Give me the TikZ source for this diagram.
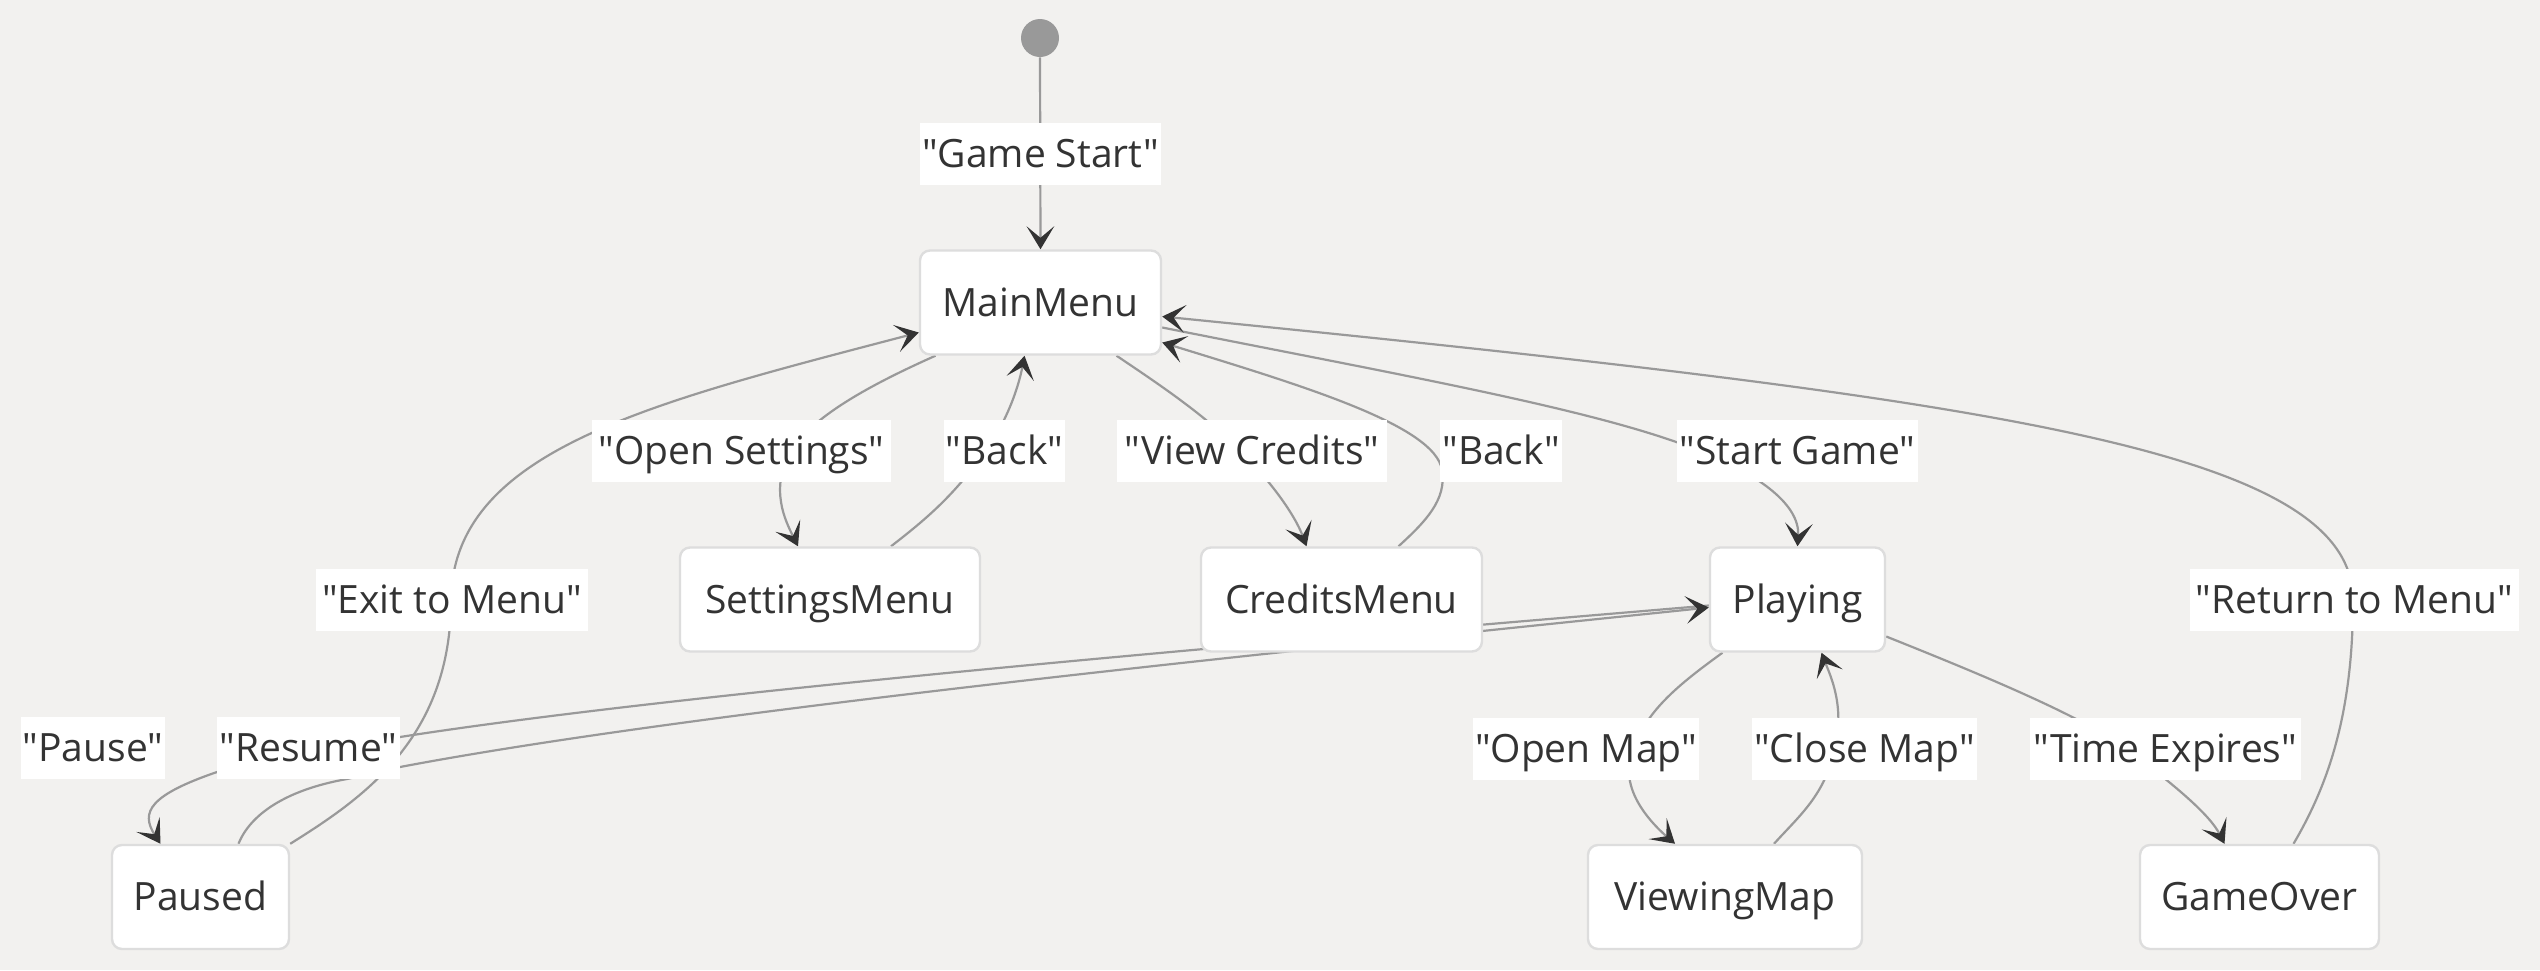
\documentclass[tikz,border=0pt]{standalone}
\usepackage{fontspec}
\setmainfont{Open Sans}[Ligatures=TeXOff]
\usetikzlibrary{arrows.meta,calc}
\definecolor{bgc}{HTML}{F2F1EF}
\definecolor{edgec}{HTML}{999999}
\definecolor{arrowc}{HTML}{333333}
\definecolor{boxb}{HTML}{DDDDDD}
\definecolor{txtc}{HTML}{333333}
\definecolor{startc}{HTML}{999999}
\pgfdeclarelayer{bgl}
\pgfdeclarelayer{edgel}
\pgfsetlayers{bgl,edgel,main}
\begin{document}
\begin{tikzpicture}[x=0.5pt,y=-0.5pt,
  stbox/.style={draw=boxb, line width=1.2pt, fill=white, rounded corners=5pt, text=txtc,
    font=\fontsize{19.5pt}{23pt}\selectfont, inner sep=0pt, minimum height=52pt,
    text height=13.9pt, text depth=0pt},
  elabel/.style={fill=white, text=txtc, font=\fontsize{19.5pt}{23pt}\selectfont,
    inner sep=0pt, minimum height=31pt, text height=13.9pt, text depth=0pt},
  conn/.style={draw=edgec, line width=1.1pt},
  arr/.style={-{Stealth[length=11.5pt,width=13.8pt,inset=5.75pt,color=arrowc]}}
]
\useasboundingbox (0,0) rectangle (2540,970);
\begin{pgfonlayer}{bgl}
  \fill[bgc] (0,0) rectangle (2540,970);
\end{pgfonlayer}

% states
\node[circle, fill=startc, minimum size=19pt, inner sep=0pt] (start) at (1040,38) {};
\node[stbox, minimum width=120.5pt] (MainMenu) at (1040.5,302.5) {MainMenu};
\node[stbox, minimum width=150pt] (SettingsMenu) at (830,599.5) {SettingsMenu};
\node[stbox, minimum width=140.5pt] (CreditsMenu) at (1341.5,599.5) {CreditsMenu};
\node[stbox, minimum width=87.5pt] (Playing) at (1797.5,599.5) {Playing};
\node[stbox, minimum width=88.5pt] (Paused) at (200.5,897) {Paused};
\node[stbox, minimum width=137pt] (ViewingMap) at (1725,897) {ViewingMap};
\node[stbox, minimum width=119.5pt] (GameOver) at (2259.5,897) {GameOver};

% edge labels
\node[elabel, minimum width=120.5pt] (lStart) at (1040.5,153.5) {"Game Start"};
\node[elabel, minimum width=149.5pt] (lOpenSet) at (741.5,451) {"Open Settings"};
\node[elabel, minimum width=60.5pt] (lBack1) at (1004.5,451) {"Back"};
\node[elabel, minimum width=135pt] (lCredits) at (1252,451) {"View Credits"};
\node[elabel, minimum width=61pt] (lBack2) at (1501,451) {"Back"};
\node[elabel, minimum width=120.5pt] (lStartGame) at (1797.5,451) {"Start Game"};
\node[elabel, minimum width=136pt] (lExit) at (452,599.5) {"Exit to Menu"};
\node[elabel, minimum width=164.5pt] (lReturn) at (2354.5,599.5) {"Return to Menu"};
\node[elabel, minimum width=72pt] (lPause) at (93,748) {"Pause"};
\node[elabel, minimum width=91.5pt] (lResume) at (308.5,748) {"Resume"};
\node[elabel, minimum width=113pt] (lOpenMap) at (1586,748.5) {"Open Map"};
\node[elabel, minimum width=112.5pt] (lCloseMap) at (1864.5,748.5) {"Close Map"};
\node[elabel, minimum width=135.5pt] (lTime) at (2165.5,748.5) {"Time Expires"};

\begin{pgfonlayer}{edgel}
% Game Start
\draw[conn, arr] (start.south) -- (MainMenu.north);
% Open Settings
\draw[conn, arr] ($(MainMenu.south)+(-105,0)$) .. controls (870,385) and (815,415) .. (790,451)
  .. controls (770,490) and (785,520) .. ($(SettingsMenu.north)+(-32,0)$);
% Back (settings)
\draw[conn, arr] ($(SettingsMenu.north)+(61,0)$) .. controls (925,520) and (955,495) .. (985,451)
  .. controls (1005,425) and (1018,390) .. ($(MainMenu.south)+(-16,0)$);
% View Credits
\draw[conn, arr] ($(MainMenu.south)+(76,0)$) .. controls (1160,385) and (1205,415) .. (1240,451)
  .. controls (1270,480) and (1295,515) .. ($(CreditsMenu.north)+(-35,0)$);
% Back (credits)
\draw[conn, arr] ($(CreditsMenu.north)+(57,0)$) .. controls (1425,522) and (1447,500) .. (1442,470)
  .. controls (1435,425) and (1300,385) .. ($(MainMenu.east)+(0,40)$);
% Start Game
\draw[conn, arr] ($(MainMenu.east)+(0,25)$) .. controls (1400,375) and (1600,410) .. (1700,451)
  .. controls (1760,475) and (1800,505) .. (Playing.north);
% Return to Menu
\draw[conn, arr] ($(GameOver.north)+(34,0)$) .. controls (2325,790) and (2353,720) .. (2353,600)
  .. controls (2353,450) and (2000,400) .. ($(MainMenu.east)+(0,14)$);
% Exit to Menu
\draw[conn, arr] (Paused.north east) .. controls (360,800) and (451,740) .. (451,600)
  .. controls (453,450) and (650,403) .. ($(MainMenu.west)+(0,30)$);
% Pause
\draw[conn, arr] ($(Playing.west)+(0,6)$) .. controls (1300,640) and (700,690) .. (400,737)
  -- (217,772) .. controls (150,795) and (140,812) .. ($(Paused.north)+(-40,0)$);
% Resume
\draw[conn, arr] ($(Paused.north)+(38,0)$) .. controls (250,815) and (285,790) .. (347,779)
  -- (400,767) .. controls (700,710) and (1300,650) .. ($(Playing.west)+(0,8)$);
% Open Map
\draw[conn, arr] ($(Playing.south)+(-75,0)$) .. controls (1685,680) and (1645,710) .. (1635,748)
  .. controls (1615,785) and (1650,822) .. ($(ViewingMap.north)+(-50,0)$);
% Close Map
\draw[conn, arr] ($(ViewingMap.north)+(49,0)$) .. controls (1800,815) and (1825,795) .. (1835,748)
  .. controls (1845,705) and (1830,675) .. ($(Playing.south)+(24,0)$);
% Time Expires
\draw[conn, arr] ($(Playing.east)+(0,37)$) .. controls (1975,672) and (2080,715) .. (2125,748)
  .. controls (2175,785) and (2210,815) .. ($(GameOver.north)+(-35,0)$);
\end{pgfonlayer}
\end{tikzpicture}
\end{document}
